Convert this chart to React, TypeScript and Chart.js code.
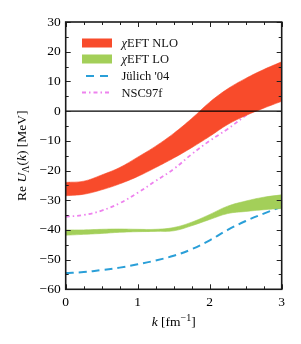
import React, { useEffect, useRef } from "react";
import { Chart, registerables } from "chart.js";

Chart.register(...registerables);

// ---------- data ----------
const K = [0, 0.25, 0.5, 0.75, 1.0, 1.25, 1.5, 1.75, 2.0, 2.25, 2.5, 2.75, 3.0];
const NLO_UPPER = [-24, -23.6, -21.5, -19, -15.5, -11.8, -7.5, -2.5, 3, 7.5, 11, 14, 16.6];
const NLO_LOWER = [-28.5, -28, -26.5, -24.5, -22, -19, -15.8, -12.3, -8.5, -4.5, -1.5, 1, 3.3];
const LO_UPPER = [-40, -40, -39.8, -39.7, -39.8, -39.8, -39.2, -37.4, -34.8, -32, -30.3, -29, -28.2];
const LO_LOWER = [-41.8, -41.5, -41.2, -40.8, -40.6, -40.5, -40.3, -38.6, -36.5, -34.5, -33.8, -33.2, -32.8];
const JUELICH04 = [-54.5, -54.2, -53.5, -52.7, -51.6, -50.3, -48.7, -46.5, -43.5, -40, -37, -34.5, -32.2];
const NSC97F = [-35.5, -35, -33.5, -31, -27.5, -23.5, -19.5, -14.5, -10, -6, -1.5, 3, 7.8];
const X_TICKS = [0, 1, 2, 3];
const Y_TICKS = [-60, -50, -40, -30, -20, -10, 0, 10, 20, 30];
const LEGEND_LABELS = ["EFT NLO", "EFT LO", "Jülich '04", "NSC97f"];

const RED = "#f84b2b";
const GREEN = "#a3cf59";
const BLUE = "#2a9fd8";
const PINK = "#ee82ee";
const SERIF = "'Liberation Serif', 'DejaVu Serif', serif";

const pts = (ys: number[]) => K.map((k, i) => ({ x: k, y: ys[i] }));

type Run = { text: string; font: string; dy?: number };
function drawRuns(ctx: CanvasRenderingContext2D, runs: Run[], x: number, y: number, align: "left" | "center") {
  let total = 0;
  for (const r of runs) {
    ctx.font = r.font;
    total += ctx.measureText(r.text).width;
  }
  let cx = align === "center" ? x - total / 2 : x;
  ctx.textAlign = "left";
  ctx.textBaseline = "alphabetic";
  for (const r of runs) {
    ctx.font = r.font;
    ctx.fillText(r.text, cx, y + (r.dy || 0));
    cx += ctx.measureText(r.text).width;
  }
}

const framePlugin = {
  id: "frameTicks",
  afterDatasetsDraw(chart: any) {
    const ctx: CanvasRenderingContext2D = chart.ctx;
    const { left, right, top, bottom } = chart.chartArea;
    const xs = chart.scales.x;
    const ys = chart.scales.y;
    ctx.save();
    const y0 = ys.getPixelForValue(0);
    ctx.strokeStyle = "#000";
    ctx.lineWidth = 1.3;
    ctx.beginPath();
    ctx.moveTo(left, y0);
    ctx.lineTo(right, y0);
    ctx.stroke();
    ctx.strokeStyle = "#222";
    ctx.lineWidth = 1;
    ctx.beginPath();
    for (let v = -60; v <= 30; v += 5) {
      const p = Math.round(ys.getPixelForValue(v)) + 0.5;
      const len = v % 10 === 0 ? 5 : 3;
      ctx.moveTo(left, p);
      ctx.lineTo(left + len, p);
      ctx.moveTo(right, p);
      ctx.lineTo(right - len, p);
    }
    for (let i = 0; i <= 12; i++) {
      const k = i * 0.25;
      const p = Math.round(xs.getPixelForValue(k)) + 0.5;
      const len = i % 4 === 0 ? 5 : 3;
      ctx.moveTo(p, bottom);
      ctx.lineTo(p, bottom - len);
      ctx.moveTo(p, top);
      ctx.lineTo(p, top + len);
    }
    ctx.stroke();
    ctx.strokeStyle = "#1a1a1a";
    ctx.lineWidth = 1.6;
    ctx.strokeRect(left, top, right - left, bottom - top);
    ctx.restore();
  },
  afterDraw(chart: any) {
    const ctx: CanvasRenderingContext2D = chart.ctx;
    const { left, right, top, bottom } = chart.chartArea;
    ctx.save();
    ctx.fillStyle = "#000";
    drawRuns(
      ctx,
      [
        { text: "k", font: `italic 13.5px ${SERIF}` },
        { text: " [fm", font: `13.5px ${SERIF}` },
        { text: "−1", font: `10px ${SERIF}`, dy: -5 },
        { text: "]", font: `13.5px ${SERIF}` },
      ],
      (left + right) / 2,
      326,
      "center"
    );
    ctx.save();
    ctx.translate(25.5, (top + bottom) / 2);
    ctx.rotate(-Math.PI / 2);
    drawRuns(
      ctx,
      [
        { text: "Re ", font: `13.5px ${SERIF}` },
        { text: "U", font: `italic 13.5px ${SERIF}` },
        { text: "Λ", font: `10px ${SERIF}`, dy: 3 },
        { text: "(", font: `13.5px ${SERIF}` },
        { text: "k", font: `italic 13.5px ${SERIF}` },
        { text: ") [MeV]", font: `13.5px ${SERIF}` },
      ],
      0,
      0,
      "center"
    );
    ctx.restore();
    const sx0 = 82;
    const sx1 = 112;
    const tx = 121.5;
    const rows = [43, 59, 76, 92.5];
    ctx.fillStyle = RED;
    ctx.fillRect(sx0, rows[0] - 4.5, sx1 - sx0, 9);
    ctx.fillStyle = GREEN;
    ctx.fillRect(sx0, rows[1] - 4.5, sx1 - sx0, 9);
    ctx.lineWidth = 2;
    ctx.strokeStyle = BLUE;
    ctx.setLineDash([8, 6]);
    ctx.lineDashOffset = -4;
    ctx.beginPath();
    ctx.moveTo(sx0, rows[2]);
    ctx.lineTo(sx1, rows[2]);
    ctx.stroke();
    ctx.strokeStyle = PINK;
    ctx.lineWidth = 1.8;
    ctx.setLineDash([4, 3, 1.5, 3]);
    ctx.lineDashOffset = 0;
    ctx.beginPath();
    ctx.moveTo(sx0, rows[3]);
    ctx.lineTo(sx1, rows[3]);
    ctx.stroke();
    ctx.setLineDash([]);
    ctx.fillStyle = "#111";
    for (let i = 0; i < 4; i++) {
      const runs: Run[] =
        i < 2
          ? [
              { text: "χ", font: `italic 12.5px ${SERIF}` },
              { text: LEGEND_LABELS[i], font: `12.5px ${SERIF}` },
            ]
          : [{ text: LEGEND_LABELS[i], font: `12.5px ${SERIF}` }];
      drawRuns(ctx, runs, tx, rows[i] + 4, "left");
    }
    ctx.restore();
  },
};

export default function App() {
  const ref = useRef<HTMLCanvasElement | null>(null);
  useEffect(() => {
    if (!ref.current) return;
    const band = (data: number[], color: string, fill: any) => ({
      data: pts(data),
      borderColor: color,
      backgroundColor: color,
      borderWidth: 0.6,
      pointRadius: 0,
      tension: 0.4,
      fill,
    });
    const chart = new Chart(ref.current, {
      type: "line",
      data: {
        datasets: [
          band(NLO_UPPER, RED, "+1"),
          band(NLO_LOWER, RED, false),
          band(LO_UPPER, GREEN, "+1"),
          band(LO_LOWER, GREEN, false),
          {
            data: pts(JUELICH04),
            borderColor: BLUE,
            borderWidth: 2,
            borderDash: [8, 5],
            pointRadius: 0,
            tension: 0.4,
            fill: false,
          },
          {
            data: pts(NSC97F),
            borderColor: PINK,
            borderWidth: 1.8,
            borderDash: [4, 3, 1.5, 3],
            pointRadius: 0,
            tension: 0.4,
            fill: false,
          },
        ],
      } as any,
      options: {
        animation: false,
        responsive: false,
        devicePixelRatio: 1,
        events: [],
        layout: { padding: { left: 0, right: 19.3, top: 22, bottom: 24.7 } },
        plugins: { legend: { display: false }, tooltip: { enabled: false } },
        scales: {
          x: {
            type: "linear",
            min: 0,
            max: 3,
            afterBuildTicks: (s: any) => {
              s.ticks = X_TICKS.map((v) => ({ value: v }));
            },
            afterFit: (s: any) => {
              s.height = 30;
            },
            grid: { display: false, drawTicks: false },
            border: { display: false },
            ticks: {
              color: "#000",
              padding: 5,
              font: { family: SERIF, size: 13.5 },
              callback: (v: any) => String(v),
            },
          },
          y: {
            type: "linear",
            min: -60,
            max: 30,
            afterBuildTicks: (s: any) => {
              s.ticks = Y_TICKS.map((v) => ({ value: v }));
            },
            afterFit: (s: any) => {
              s.width = 65.7;
            },
            grid: { display: false, drawTicks: false },
            border: { display: false },
            ticks: {
              color: "#000",
              padding: 5,
              font: { family: SERIF, size: 13.5 },
              callback: (v: any) => (v < 0 ? "−" + Math.abs(v) : String(v)),
            },
          },
        },
      } as any,
      plugins: [framePlugin],
    });
    return () => chart.destroy();
  }, []);
  return (
    <div style={{ position: "absolute", left: 0, top: 0, width: 301, height: 344, background: "#fff" }}>
      <canvas ref={ref} width={301} height={344} />
    </div>
  );
}
